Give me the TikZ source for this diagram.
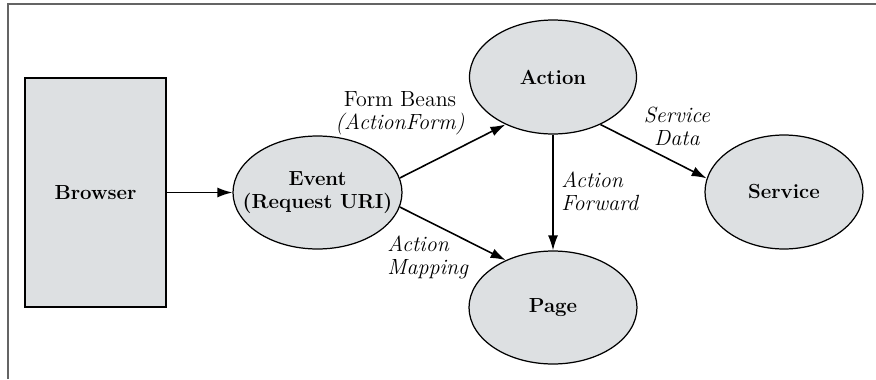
\documentclass[tikz,border=0pt]{standalone}
\usepackage{tikz}
\usetikzlibrary{shapes.geometric, arrows.meta, positioning}
\definecolor{blobfill}{RGB}{221,224,226}
\definecolor{framegray}{RGB}{100,100,100}

\begin{document}
\begin{tikzpicture}[x=0.02cm, y=-0.02cm, font=\fontsize{12.5}{13}\selectfont,
    box/.style={draw, line width=0.7pt, fill=blobfill, inner sep=0pt, font=\fontsize{11.6}{13}\selectfont\bfseries},
    blob/.style={draw, ellipse, line width=0.7pt, fill=blobfill, inner sep=0pt, inner xsep=-0.4cm, align=center, font=\fontsize{11.6}{13}\selectfont\bfseries},
    flow/.style={-{Latex[length=3mm, width=2mm]}, line width=0.9pt},
    lbl/.style={inner sep=0pt}]
    \useasboundingbox (0,0) rectangle (876,379);
    \draw[framegray, line width=1pt] (8,379) -- (8,4) -- (876,4);

    \node[box, minimum width=2.82cm, minimum height=4.58cm] (browser) at (95.5,192.5) {Browser};
    \node[blob, minimum width=3.38cm, minimum height=2.26cm] (event) at (317.5,192.5) {Event\\(Request URI)};
    \node[blob, minimum width=3.34cm, minimum height=2.28cm] (action) at (553,77) {Action};
    \node[blob, minimum width=3.36cm, minimum height=2.26cm] (page) at (553,307.5) {Page};
    \node[blob, minimum width=3.16cm, minimum height=2.28cm] (service) at (784,192) {Service};

    \draw[flow] (browser.east) -- (event.west);
    \draw[flow] (event.10) -- (action.225);
    \draw[flow] (event.-10) -- (page.135);
    \draw[flow] (action.south) -- (page.north);
    \draw[flow] (action.-45) -- (service.170);

    \node[lbl, align=center] (formbeans) at (400,113) {Form Beans\\\textit{(ActionForm)}};
    \node[lbl, align=left, anchor=west] (forward) at (561,191) {\textit{Action}\\\textit{Forward}};
    \node[lbl, align=center] (servicedata) at (677,126) {\textit{Service}\\\textit{Data}};
    \node[lbl, align=left, anchor=west] (mapping) at (387,257) {\textit{Action}\\\textit{Mapping}};
\end{tikzpicture}
\end{document}
